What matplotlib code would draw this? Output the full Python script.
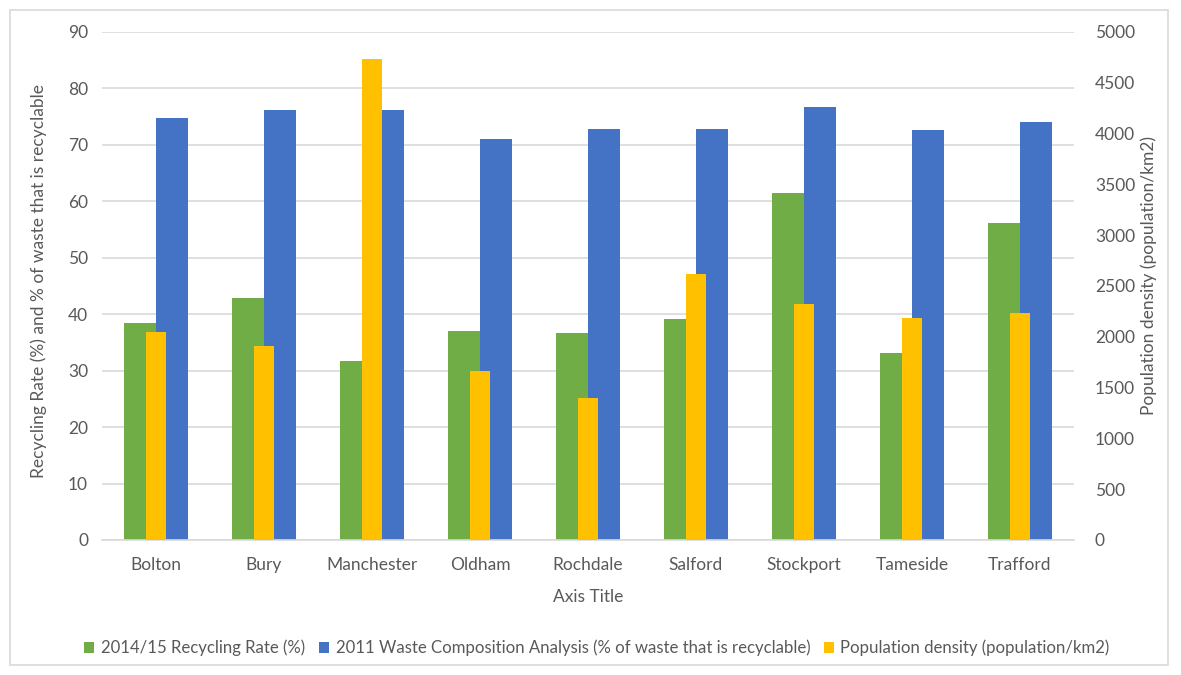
import matplotlib
matplotlib.use("Agg")
import matplotlib.pyplot as plt
from matplotlib.patches import Rectangle
import numpy as np

plt.rcParams['font.family'] = ['Lato', 'DejaVu Sans']

boroughs = ["Bolton", "Bury", "Manchester", "Oldham", "Rochdale",
            "Salford", "Stockport", "Tameside", "Trafford"]
recycling_rate = [38.4, 42.9, 31.8, 37.0, 36.6, 39.2, 61.4, 33.1, 56.2]
recyclable_share = [74.8, 76.2, 76.1, 71.0, 72.9, 72.9, 76.7, 72.6, 74.0]
population_density = [2044, 1912, 4734, 1663, 1401, 2621, 2320, 2182, 2231]

left_ticks = list(range(0, 91, 10))
right_ticks = list(range(0, 5001, 500))

GREEN = "#70AD47"
BLUE = "#4472C4"
YELLOW = "#FFC000"
GRID = "#D9D9D9"
TEXT = "#595959"

fig = plt.figure(figsize=(11.81, 6.75), dpi=100)
ax = fig.add_axes([102 / 1181, 135 / 675, 972 / 1181, 508 / 675])
ax2 = ax.twinx()

x = np.arange(len(boroughs))
w = 0.3
ax.bar(x - w / 2, recycling_rate, w, color=GREEN, zorder=2,
       label="2014/15 Recycling Rate (%)")
ax.bar(x + w / 2, recyclable_share, w, color=BLUE, zorder=2,
       label="2011 Waste Composition Analysis (% of waste that is recyclable)")
ax2.bar(x, population_density, 0.19, color=YELLOW, zorder=3,
        label="Population density (population/km2)")

ax.set_xlim(-0.5, len(boroughs) - 0.5)
ax.set_ylim(0, 90)
ax2.set_ylim(0, 5000)
ax.set_yticks(left_ticks)
ax2.set_yticks(right_ticks)
ax.set_xticks(x)
ax.set_xticklabels(boroughs)

ax.grid(axis="y", color=GRID, linewidth=1.2, zorder=0)
ax.set_axisbelow(True)
for a in (ax, ax2):
    for s in a.spines.values():
        s.set_visible(False)
    a.tick_params(length=0, colors=TEXT, labelsize=12.5)
ax.spines["bottom"].set_visible(True)
ax.spines["bottom"].set_color(GRID)
ax.spines["bottom"].set_linewidth(1.2)
ax.tick_params(axis="y", pad=10)
ax2.tick_params(axis="y", pad=15)
ax.tick_params(axis="x", pad=12)

ax.set_ylabel("Recycling Rate (%) and % of waste that is recyclable",
              color=TEXT, fontsize=12.5)
ax2.set_ylabel("Population density (population/km2)",
               color=TEXT, fontsize=12.5)
ax.yaxis.set_label_coords(-55 / 972, 0.51)
ax2.yaxis.set_label_coords(1 + 66 / 972, 0.52)
ax.set_xlabel("Axis Title", color=TEXT, fontsize=12.5, labelpad=12)

h1, l1 = ax.get_legend_handles_labels()
h2, l2 = ax2.get_legend_handles_labels()
fig.legend(h1 + h2, l1 + l2, loc="center", bbox_to_anchor=(597 / 1181, 1 - 648 / 675),
           ncol=3, frameon=False, fontsize=12.1, labelcolor=TEXT,
           handlelength=0.6, handleheight=0.6, handletextpad=0.4, columnspacing=0.8)

fig.patches.append(Rectangle((10 / 1181, 10 / 675), 1158 / 1181, 655 / 675,
                             transform=fig.transFigure, fill=False,
                             edgecolor=GRID, linewidth=1.2))

fig.savefig("out.png", dpi=100, facecolor="white")
